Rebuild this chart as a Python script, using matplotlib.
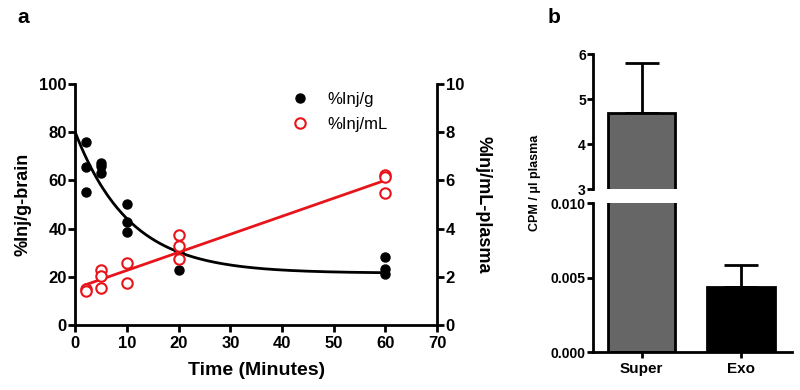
import numpy as np
import matplotlib
matplotlib.use("Agg")
import matplotlib.pyplot as plt

plt.rcParams['font.family'] = ['Liberation Sans', 'DejaVu Sans']

# panel a: brain uptake (%Inj/g, left axis) and plasma level (%Inj/mL, right axis)
t_brain = [2, 2, 2, 5, 5, 5, 10, 10, 10, 20, 20, 60, 60, 60]
inj_g = [76.1, 65.7, 55.0, 67.4, 66.0, 63.2, 50.1, 42.9, 38.7, 30.5, 22.8, 28.4, 23.1, 21.2]
t_plasma = [2, 2, 5, 5, 5, 10, 10, 20, 20, 20, 60, 60, 60]
inj_ml = [1.48, 1.42, 2.28, 2.03, 1.52, 2.59, 1.73, 3.73, 3.28, 2.72, 6.22, 6.15, 5.46]

# one-phase decay fit
decay_plateau = 21.5
decay_span = 58.5
decay_k = 0.095

# panel b: CPM per ul plasma
bar_names = ["Super", "Exo"]
bar_values = [4.7, 0.00434]
bar_errors = [1.1, 0.0015]
bar_colors = ["#666666", "#000000"]

fig = plt.figure(figsize=(8, 3.9), dpi=100)

# ---------- panel a ----------
ax = fig.add_axes([0.094, 0.1667, 0.4525, 0.618])
ax2 = ax.twinx()

tt = np.linspace(0, 60, 200)
ax.plot(tt, decay_plateau + decay_span * np.exp(-decay_k * tt), color="black", lw=2, zorder=2)
ax.plot(t_brain, inj_g, "o", color="black", ms=6.5, zorder=3)

slope, icpt = np.polyfit(t_plasma, inj_ml, 1)
tl = np.array([2, 60])
ax2.plot(tl, slope * tl + icpt, color="#e8141b", lw=2, zorder=2)
ax2.plot(t_plasma, inj_ml, "o", mfc="white", mec="#e8141b", mew=1.5, ms=7.5, zorder=3)

ax.set_xlim(0, 70)
ax.set_ylim(0, 100)
ax2.set_ylim(0, 10)
ax.set_xticks(range(0, 71, 10))
ax.set_yticks(range(0, 101, 20))
ax2.set_yticks(range(0, 11, 2))

for a in (ax, ax2):
    a.spines["top"].set_visible(False)
    for s in a.spines.values():
        s.set_linewidth(2)
    a.tick_params(direction="out", length=5, width=2, labelsize=12, pad=1)
    for lab in a.get_xticklabels() + a.get_yticklabels():
        lab.set_fontweight("bold")
ax.tick_params(axis="x", pad=3)
ax2.spines["left"].set_visible(False)
ax2.spines["bottom"].set_visible(False)
ax.spines["right"].set_visible(False)
ax2.patch.set_visible(False)

ax.set_xlabel("Time (Minutes)", fontsize=14, fontweight="bold", labelpad=8)
ax.set_ylabel("%Inj/g-brain", fontsize=13, fontweight="bold", labelpad=6)
ax2.set_ylabel("%Inj/mL-plasma", fontsize=13, fontweight="bold", rotation=270, labelpad=20)

h1 = ax.plot([], [], "o", color="black", ms=6.5)[0]
h2 = ax.plot([], [], "o", mfc="white", mec="#e8141b", mew=1.5, ms=7.5)[0]
ax2.legend([h1, h2], ["%Inj/g", "%Inj/mL"], loc="upper right", bbox_to_anchor=(0.89, 1.01),
           frameon=False, fontsize=12, handletextpad=0.6, borderaxespad=0.2,
           labelspacing=0.6)

fig.text(0.022, 0.955, "a", fontsize=15, fontweight="bold", va="center")

# ---------- panel b (broken axis) ----------
axt = fig.add_axes([0.741, 0.515, 0.249, 0.346])
axb = fig.add_axes([0.741, 0.0974, 0.249, 0.382])
xpos = np.arange(len(bar_names))
for a in (axt, axb):
    a.bar(xpos, bar_values, width=0.68, color=bar_colors, edgecolor="black", linewidth=2, zorder=2)
    for x, v, e in zip(xpos, bar_values, bar_errors):
        a.errorbar(x, v, yerr=[[0], [e]], color="black", elinewidth=2, capsize=12,
                   capthick=2, zorder=1)
    a.set_xlim(-0.49, 1.51)
    a.spines["top"].set_visible(False)
    a.spines["right"].set_visible(False)
    for s in a.spines.values():
        s.set_linewidth(2)
    a.tick_params(direction="out", length=4, width=2, labelsize=10, pad=1)

axt.set_ylim(3, 6)
axt.set_yticks([3, 4, 5, 6])
axt.spines["bottom"].set_visible(False)
axt.set_xticks([])
axb.set_ylim(0, 0.01)
axb.set_yticks([0, 0.005, 0.010])
axb.set_yticklabels(["0.000", "0.005", "0.010"])
axb.set_xticks(xpos)
axb.set_xticklabels(bar_names)
axb.tick_params(axis="x", labelsize=11, pad=3)
for a in (axt, axb):
    for lab in a.get_xticklabels() + a.get_yticklabels():
        lab.set_fontweight("bold")

fig.text(0.669, 0.53, "CPM / μl plasma", rotation=90, fontsize=9, fontweight="bold",
         ha="center", va="center")
fig.text(0.685, 0.955, "b", fontsize=15, fontweight="bold", va="center")

fig.savefig("out.png", dpi=100)
